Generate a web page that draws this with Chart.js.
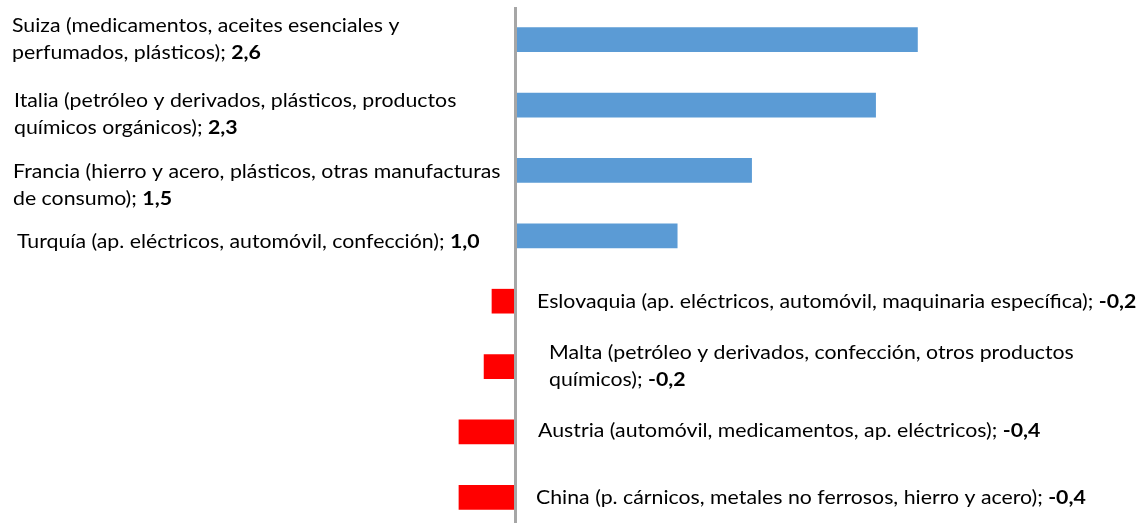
<!DOCTYPE html>
<html>
<head>
<meta charset="utf-8">
<script src="https://cdn.jsdelivr.net/npm/chart.js@4.4.1/dist/chart.umd.min.js"></script>
<style>
  html, body { margin: 0; padding: 0; background: #ffffff; overflow: hidden; }
  #wrap { position: absolute; left: 0; top: 0; width: 1146px; height: 530px; }
</style>
</head>
<body>
<div id="wrap"><canvas id="c"></canvas></div>
<script>
// ---- data ----
const categories = ["Suiza", "Italia", "Francia", "Turquía", "Eslovaquia", "Malta", "Austria", "China"];
const labelLines = [
  ["Suiza (medicamentos, aceites esenciales y", "perfumados, plásticos)"],
  ["Italia (petróleo y derivados, plásticos, productos", "químicos orgánicos)"],
  ["Francia (hierro y acero, plásticos, otras manufacturas", "de consumo)"],
  ["Turquía (ap. eléctricos, automóvil, confección)"],
  ["Eslovaquia (ap. eléctricos, automóvil, maquinaria específica)"],
  ["Malta (petróleo y derivados, confección, otros productos", "químicos)"],
  ["Austria (automóvil, medicamentos, ap. eléctricos)"],
  ["China (p. cárnicos, metales no ferrosos, hierro y acero)"]
];
const values = [2.59, 2.32, 1.52, 1.04, -0.155, -0.206, -0.368, -0.368];

const FONT = "Lato, 'Open Sans', sans-serif";
const FS = 19.5;
const STRETCH = 1.092;

const labelPlugin = {
  id: 'sideLabels',
  afterDatasetsDraw(chart, args, opts) {
    const ctx = chart.ctx;
    const xs = chart.scales.x, ys = chart.scales.y;
    const zero = xs.getPixelForValue(0);
    // zero line
    ctx.save();
    ctx.fillStyle = '#a6a6a6';
    ctx.fillRect(zero - 2, chart.chartArea.top, 3, chart.chartArea.bottom - chart.chartArea.top);
    ctx.restore();

    values.forEach((v, i) => {
      const lines = labelLines[i];
      const yc = ys.getPixelForValue(i) + opts.dy[i];
      const lh = opts.lineHeight;
      const x0 = v >= 0 ? opts.leftX + opts.dx[i] : zero + opts.rightGap + opts.dx[i];
      const y0 = yc - (lines.length - 1) * lh / 2;
      lines.forEach((ln, k) => {
        const y = y0 + k * lh;
        const last = k === lines.length - 1;
        const t = last ? ln + '; ' : ln;
        ctx.save();
        ctx.translate(x0, y);
        ctx.scale(STRETCH, 1);
        ctx.textBaseline = 'middle';
        ctx.textAlign = 'left';
        ctx.fillStyle = '#000000';
        ctx.font = `${FS}px ${FONT}`;
        ctx.fillText(t, 0, 0);
        if (last) {
          const w = ctx.measureText(t).width;
          ctx.font = `bold ${FS}px ${FONT}`;
          ctx.fillText(v.toFixed(1).replace('.', ','), w, 0);
        }
        ctx.restore();
      });
    });
  }
};

new Chart(document.getElementById('c'), {
  type: 'bar',
  data: {
    labels: categories,
    datasets: [{
      data: values,
      backgroundColor: values.map(v => v >= 0 ? '#5b9bd5' : '#ff0000'),
      barThickness: 24,
      borderWidth: 0
    }]
  },
  options: {
    indexAxis: 'y',
    responsive: true,
    maintainAspectRatio: false,
    animation: false,
    layout: { padding: { top: 7, left: 0, right: 0, bottom: 0 } },
    plugins: {
      legend: { display: false },
      tooltip: { enabled: false },
      sideLabels: {
        lineHeight: 27,
        leftX: 13,
        rightGap: 21,
        dx: [-1, 1, 0, 4, 0, 12, 1, -1],
        dy: [0, 9, 15, 6, 1, 0, -1, 0]
      }
    },
    scales: {
      x: { display: false, min: -516 / 155, max: 630 / 155 },
      y: { display: false }
    }
  },
  plugins: [labelPlugin]
});
</script>
</body>
</html>
